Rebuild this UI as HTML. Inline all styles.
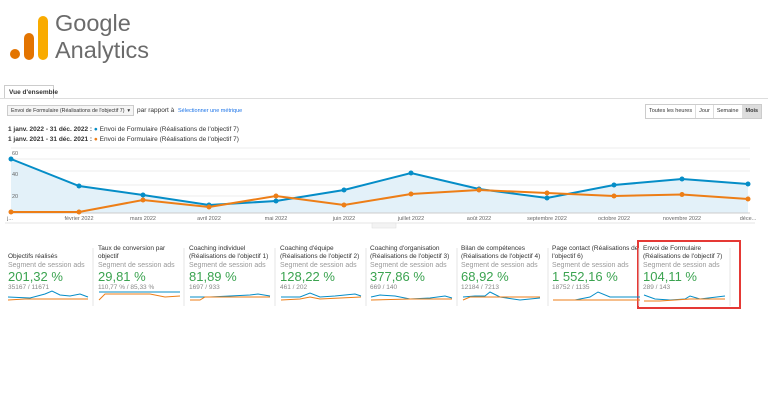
<!DOCTYPE html>
<html><head><meta charset="utf-8"><style>
body{margin:0;width:768px;height:403px;background:#fff;font-family:"Liberation Sans",sans-serif;position:relative;overflow:hidden}
.a{position:absolute;white-space:nowrap}
.t{font-size:6.5px;color:#333}
.g{font-size:7px;color:#999}
.v{font-size:13px;color:#3ba350}
.n{font-size:6.5px;color:#888}
</style></head><body>
<div class="a" style="left:10px;top:49px;width:10px;height:10px;border-radius:50%;background:#e37400"></div>
<div class="a" style="left:24px;top:33px;width:10px;height:27px;border-radius:5px;background:#e37400"></div>
<div class="a" style="left:38px;top:16px;width:10px;height:44px;border-radius:5px;background:#f9ab00"></div>
<div class="a" style="left:55px;top:10px;font-size:23.5px;color:#6b6b6b;line-height:27px">Google<br>Analytics</div>
<div class="a" style="left:0;top:98px;width:768px;border-top:1px solid #ddd"></div>
<div class="a" style="left:4px;top:85px;width:50px;height:13px;border:1px solid #ccc;border-bottom:none;background:#fff;font-size:6.5px;font-weight:bold;color:#333;padding:3px 0 0 4px;box-sizing:border-box">Vue d'ensemble</div>
<div class="a" style="left:7px;top:105px;width:127px;height:11px;border:1px solid #ccc;background:#f5f5f5;font-size:5.3px;color:#333;padding:2px 3px;box-sizing:border-box;overflow:hidden">Envoi de Formulaire (Réalisations de l'objectif 7) &nbsp;▾</div>
<div class="a t" style="left:137px;top:107px;font-size:6.5px">par rapport à</div>
<div class="a" style="left:178px;top:108px;font-size:5.5px;color:#1a73e8">Sélectionner une métrique</div>
<div class="a" style="left:645px;top:104px;height:13px;border:1px solid #ccc;font-size:5.5px;color:#333;display:flex">
<span style="padding:3px 3px;border-right:1px solid #ddd">Toutes les heures</span><span style="padding:3px 3px;border-right:1px solid #ddd">Jour</span><span style="padding:3px 3px;border-right:1px solid #ddd">Semaine</span><span style="padding:3px 3px;background:#ddd;font-weight:bold">Mois</span></div>
<div class="a" style="left:8px;top:126px;font-size:6.5px;color:#333"><b>1 janv. 2022 - 31 déc. 2022 :</b> <span style="color:#058dc7">●</span> Envoi de Formulaire (Réalisations de l'objectif 7)</div>
<div class="a" style="left:8px;top:136px;font-size:6.5px;color:#333"><b>1 janv. 2021 - 31 déc. 2021 :</b> <span style="color:#ed7e17">●</span> Envoi de Formulaire (Réalisations de l'objectif 7)</div>
<svg class="a" style="left:0;top:145px" width="768" height="85" viewBox="0 145 768 85">
<g stroke="#eee" stroke-width="1"><line x1="11" x2="750" y1="148" y2="148"/><line x1="11" x2="750" y1="159" y2="159"/><line x1="11" x2="750" y1="171" y2="171"/><line x1="11" x2="750" y1="185" y2="185"/><line x1="11" x2="750" y1="196" y2="196"/></g>
<polygon fill="#e3f1f9" points="11,159 79,186 143,195 209,205 276,201 344,190 411,173 479,189 547,198 614,185 682,179 748,184 748,213 11,213"/>
<line x1="11" x2="750" y1="213" y2="213" stroke="#ccc"/>
<polyline fill="none" stroke="#058dc7" stroke-width="2" points="11,159 79,186 143,195 209,205 276,201 344,190 411,173 479,189 547,198 614,185 682,179 748,184"/>
<polyline fill="none" stroke="#ed7e17" stroke-width="2" points="11,212 79,212 143,200 209,207 276,196 344,205 411,194 479,190 547,193 614,196 682,194.5 748,199"/>
<g fill="#058dc7"><circle cx="11" cy="159" r="2.5"/><circle cx="79" cy="186" r="2.5"/><circle cx="143" cy="195" r="2.5"/><circle cx="209" cy="205" r="2.5"/><circle cx="276" cy="201" r="2.5"/><circle cx="344" cy="190" r="2.5"/><circle cx="411" cy="173" r="2.5"/><circle cx="479" cy="189" r="2.5"/><circle cx="547" cy="198" r="2.5"/><circle cx="614" cy="185" r="2.5"/><circle cx="682" cy="179" r="2.5"/><circle cx="748" cy="184" r="2.5"/></g>
<g fill="#ed7e17"><circle cx="11" cy="212" r="2.5"/><circle cx="79" cy="212" r="2.5"/><circle cx="143" cy="200" r="2.5"/><circle cx="209" cy="207" r="2.5"/><circle cx="276" cy="196" r="2.5"/><circle cx="344" cy="205" r="2.5"/><circle cx="411" cy="194" r="2.5"/><circle cx="479" cy="190" r="2.5"/><circle cx="547" cy="193" r="2.5"/><circle cx="614" cy="196" r="2.5"/><circle cx="682" cy="194.5" r="2.5"/><circle cx="748" cy="199" r="2.5"/></g>
<g font-size="5.5" fill="#666" font-family="Liberation Sans"><text x="12" y="155">60</text><text x="12" y="176">40</text><text x="12" y="198">20</text>
<g text-anchor="middle"><text x="10" y="220">j...</text><text x="79" y="220">février 2022</text><text x="143" y="220">mars 2022</text><text x="209" y="220">avril 2022</text><text x="276" y="220">mai 2022</text><text x="344" y="220">juin 2022</text><text x="411" y="220">juillet 2022</text><text x="479" y="220">août 2022</text><text x="547" y="220">septembre 2022</text><text x="614" y="220">octobre 2022</text><text x="682" y="220">novembre 2022</text><text x="748" y="220">déce...</text></g></g>
<line x1="5" x2="755" y1="223" y2="223" stroke="#e5e5e5"/>
<rect x="372" y="223" width="24" height="5" fill="#f3f3f3" stroke="#ddd" stroke-width=".5"/>
</svg>
<div class="a t" style="left:8px;top:253px">Objectifs réalisés</div>
<div class="a g" style="left:8px;top:262px">Segment de session ads</div>
<div class="a v" style="left:8px;top:269px">201,32 %</div>
<div class="a n" style="left:8px;top:284px">35167 / 11671</div>
<div class="a t" style="left:98px;top:245px;line-height:8px">Taux de conversion par<br>objectif</div>
<div class="a g" style="left:98px;top:262px">Segment de session ads</div>
<div class="a v" style="left:98px;top:269px">29,81 %</div>
<div class="a n" style="left:98px;top:284px">110,77 % / 85,33 %</div>
<div class="a t" style="left:189px;top:245px;line-height:8px">Coaching individuel<br>(Réalisations de l'objectif 1)</div>
<div class="a g" style="left:189px;top:262px">Segment de session ads</div>
<div class="a v" style="left:189px;top:269px">81,89 %</div>
<div class="a n" style="left:189px;top:284px">1697 / 933</div>
<div class="a t" style="left:280px;top:245px;line-height:8px">Coaching d'équipe<br>(Réalisations de l'objectif 2)</div>
<div class="a g" style="left:280px;top:262px">Segment de session ads</div>
<div class="a v" style="left:280px;top:269px">128,22 %</div>
<div class="a n" style="left:280px;top:284px">461 / 202</div>
<div class="a t" style="left:370px;top:245px;line-height:8px">Coaching d'organisation<br>(Réalisations de l'objectif 3)</div>
<div class="a g" style="left:370px;top:262px">Segment de session ads</div>
<div class="a v" style="left:370px;top:269px">377,86 %</div>
<div class="a n" style="left:370px;top:284px">669 / 140</div>
<div class="a t" style="left:461px;top:245px;line-height:8px">Bilan de compétences<br>(Réalisations de l'objectif 4)</div>
<div class="a g" style="left:461px;top:262px">Segment de session ads</div>
<div class="a v" style="left:461px;top:269px">68,92 %</div>
<div class="a n" style="left:461px;top:284px">12184 / 7213</div>
<div class="a t" style="left:552px;top:245px;line-height:8px">Page contact (Réalisations de<br>l'objectif 6)</div>
<div class="a g" style="left:552px;top:262px">Segment de session ads</div>
<div class="a v" style="left:552px;top:269px">1 552,16 %</div>
<div class="a n" style="left:552px;top:284px">18752 / 1135</div>
<div class="a t" style="left:643px;top:245px;line-height:8px">Envoi de Formulaire<br>(Réalisations de l'objectif 7)</div>
<div class="a g" style="left:643px;top:262px">Segment de session ads</div>
<div class="a v" style="left:643px;top:269px">104,11 %</div>
<div class="a n" style="left:643px;top:284px">289 / 143</div>
<div class="a" style="left:637px;top:240px;width:104px;height:69px;border:2px solid #e53935;box-sizing:border-box"></div>
<svg class="a" style="left:0;top:244px" width="768" height="66">
<g stroke="#e5e5e5"><line x1="93" x2="93" y1="4" y2="62"/><line x1="184" x2="184" y1="4" y2="62"/><line x1="275" x2="275" y1="4" y2="62"/><line x1="366" x2="366" y1="4" y2="62"/><line x1="457" x2="457" y1="4" y2="62"/><line x1="548" x2="548" y1="4" y2="62"/><line x1="639" x2="639" y1="4" y2="62"/><line x1="730" x2="730" y1="4" y2="62"/></g>
<g fill="none" stroke-width="1">
<path d="M8 53 L30 54 L45 50 L52 47 L60 51 L70 52 L80 50 L88 53" stroke="#058dc7"/><path d="M8 56 L25 55 L50 55 L88 55" stroke="#ed7e17"/>
<path d="M99 48 L180 48" stroke="#058dc7"/><path d="M99 56 L105 50 L150 50 L165 53 L180 52" stroke="#ed7e17"/>
<path d="M190 53 L210 53 L230 52 L250 51 L258 50 L270 52" stroke="#058dc7"/><path d="M190 56 L200 56 L205 53 L270 53" stroke="#ed7e17"/>
<path d="M281 53 L300 53 L310 49 L320 53 L335 52 L355 50 L361 52" stroke="#058dc7"/><path d="M281 56 L300 55 L310 53 L320 55 L361 53" stroke="#ed7e17"/>
<path d="M371 53 L380 51 L395 52 L410 55 L430 54 L445 52 L452 54" stroke="#058dc7"/><path d="M371 56 L410 55 L452 55" stroke="#ed7e17"/>
<path d="M463 53 L475 52 L485 52 L490 48 L500 53 L520 56 L540 54" stroke="#058dc7"/><path d="M463 56 L470 53 L540 53" stroke="#ed7e17"/>
<path d="M553 56 L575 56 L590 53 L598 48 L610 53 L640 53" stroke="#058dc7"/><path d="M553 56 L640 56" stroke="#ed7e17"/>
<path d="M644 51 L655 55 L670 56 L685 55 L690 52 L700 55 L725 52" stroke="#058dc7"/><path d="M644 57 L660 57 L690 55 L725 55" stroke="#ed7e17"/>
</g></svg>
</body></html>
